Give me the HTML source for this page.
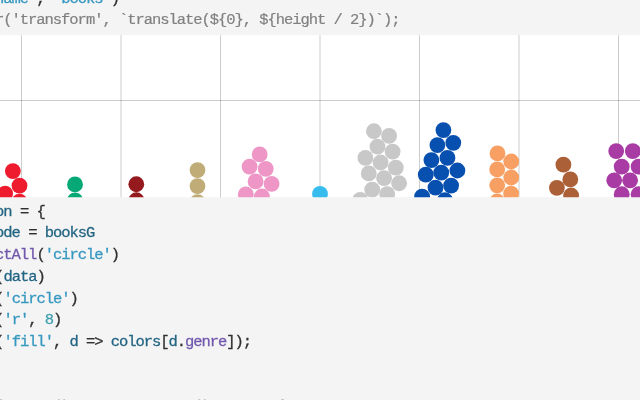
<!DOCTYPE html>
<html><head><meta charset="utf-8"><title>books</title>
<style>
html,body{margin:0;padding:0}
body{width:640px;height:400px;overflow:hidden;position:relative;background:#f4f4f4;}
.chart{position:absolute;left:0;top:0;display:block}
.ln{position:absolute;left:-4.9px;margin-top:-15px;height:22px;line-height:22px;white-space:pre;
 font-family:"Liberation Mono",monospace;font-size:15.5px;letter-spacing:-1.05px;color:#303030;
 -webkit-text-stroke:0.28px currentColor;font-kerning:none;font-variant-ligatures:none}
.dim,.dim2{color:#808080;-webkit-text-stroke:0.2px currentColor;}
.dim2{color:#555}
.v{color:#236583}
.s{color:#3798c0}
.f{color:#7158ad}
.n{color:#3f9fae}
</style></head><body>
<svg class="chart" width="640" height="400" viewBox="0 0 640 400">
<defs><clipPath id="c"><rect x="0" y="35.2" width="640" height="162.00"/></clipPath></defs>
<rect x="0" y="35.2" width="640" height="162.00" fill="#fff"/>
<g clip-path="url(#c)">
<g stroke="#000" stroke-opacity="0.2" stroke-width="1">
<line x1="21.5" y1="30" x2="21.5" y2="200"/>
<line x1="121" y1="30" x2="121" y2="200"/>
<line x1="220.5" y1="30" x2="220.5" y2="200"/>
<line x1="320" y1="30" x2="320" y2="200"/>
<line x1="419.5" y1="30" x2="419.5" y2="200"/>
<line x1="519" y1="30" x2="519" y2="200"/>
<line x1="618.5" y1="30" x2="618.5" y2="200"/>
<line x1="0" y1="100.5" x2="640" y2="100.5"/>
</g>
<g fill="#ee1a2e">
<circle cx="12.85" cy="171.1" r="7.9"/>
<circle cx="19.5" cy="185.6" r="7.9"/>
<circle cx="5.1" cy="193.6" r="7.9"/>
<circle cx="19.5" cy="201.6" r="7.9"/>
</g>
<g fill="#06a876">
<circle cx="75.0" cy="184.4" r="7.9"/>
<circle cx="75.0" cy="200.3" r="7.9"/>
</g>
<g fill="#941a1e">
<circle cx="136.3" cy="184.25" r="7.9"/>
<circle cx="136.4" cy="200.25" r="7.9"/>
</g>
<g fill="#c0ac76">
<circle cx="197.5" cy="170.1" r="7.9"/>
<circle cx="197.5" cy="186.1" r="7.9"/>
<circle cx="197.5" cy="202.1" r="7.9"/>
</g>
<g fill="#ee96c6">
<circle cx="259.7" cy="154.4" r="7.9"/>
<circle cx="249.6" cy="166.6" r="7.9"/>
<circle cx="265.75" cy="168.8" r="7.9"/>
<circle cx="255.6" cy="181.4" r="7.9"/>
<circle cx="271.6" cy="183.8" r="7.9"/>
<circle cx="245.8" cy="194.4" r="7.9"/>
<circle cx="261.9" cy="196.5" r="7.9"/>
</g>
<g fill="#37bcee">
<circle cx="320.0" cy="193.9" r="7.9"/>
</g>
<g fill="#c8c8c8">
<circle cx="373.9" cy="131.25" r="7.9"/>
<circle cx="389.1" cy="135.9" r="7.9"/>
<circle cx="377.45" cy="146.65" r="7.9"/>
<circle cx="392.6" cy="151.7" r="7.9"/>
<circle cx="365.4" cy="157.9" r="7.9"/>
<circle cx="380.6" cy="162.5" r="7.9"/>
<circle cx="395.8" cy="167.7" r="7.9"/>
<circle cx="368.75" cy="173.4" r="7.9"/>
<circle cx="384.1" cy="178.2" r="7.9"/>
<circle cx="399.1" cy="183.25" r="7.9"/>
<circle cx="372.2" cy="189.6" r="7.9"/>
<circle cx="387.2" cy="194.1" r="7.9"/>
<circle cx="360.25" cy="199.9" r="7.9"/>
</g>
<g fill="#0750b0">
<circle cx="443.4" cy="130.1" r="7.9"/>
<circle cx="437.4" cy="145.1" r="7.9"/>
<circle cx="453.3" cy="142.8" r="7.9"/>
<circle cx="431.4" cy="160.1" r="7.9"/>
<circle cx="447.45" cy="157.9" r="7.9"/>
<circle cx="425.8" cy="174.7" r="7.9"/>
<circle cx="441.25" cy="172.6" r="7.9"/>
<circle cx="457.4" cy="170.5" r="7.9"/>
<circle cx="435.5" cy="187.6" r="7.9"/>
<circle cx="451.1" cy="185.6" r="7.9"/>
<circle cx="422.1" cy="196.7" r="7.9"/>
<circle cx="445.0" cy="200.25" r="7.9"/>
</g>
<g fill="#f8a064">
<circle cx="497.5" cy="153.4" r="7.9"/>
<circle cx="511.25" cy="161.5" r="7.9"/>
<circle cx="497.2" cy="169.4" r="7.9"/>
<circle cx="511.25" cy="177.5" r="7.9"/>
<circle cx="497.2" cy="185.3" r="7.9"/>
<circle cx="511.1" cy="193.6" r="7.9"/>
<circle cx="497.2" cy="201.5" r="7.9"/>
</g>
<g fill="#ac6038">
<circle cx="563.4" cy="164.7" r="7.9"/>
<circle cx="570.3" cy="179.4" r="7.9"/>
<circle cx="556.9" cy="187.8" r="7.9"/>
<circle cx="571.1" cy="195.5" r="7.9"/>
</g>
<g fill="#a83ca4">
<circle cx="616.2" cy="151.1" r="7.9"/>
<circle cx="632.8" cy="151.1" r="7.9"/>
<circle cx="621.7" cy="166.7" r="7.9"/>
<circle cx="638.6" cy="166.7" r="7.9"/>
<circle cx="614.2" cy="180.3" r="7.9"/>
<circle cx="630.1" cy="180.3" r="7.9"/>
<circle cx="621.7" cy="194.25" r="7.9"/>
<circle cx="638.6" cy="194.25" r="7.9"/>
</g>
</g></svg>
<div class="ln hl" style="top:3.00px"><span class="s">name'</span>, <span class="s">'books'</span>)</div>
<div class="ln dim" style="top:24.00px">r('transform', `translate(${0}, ${height / 2})`);</div>
<div class="ln hl" style="top:215.70px"><span class="v">on</span> = {</div>
<div class="ln hl" style="top:237.45px"><span class="v">ode</span> = <span class="v">booksG</span></div>
<div class="ln hl" style="top:259.20px"><span class="f">ctAll</span>(<span class="s">'circle'</span>)</div>
<div class="ln hl" style="top:280.95px">(<span class="v">data</span>)</div>
<div class="ln hl" style="top:302.70px">(<span class="s">'circle'</span>)</div>
<div class="ln hl" style="top:324.45px">(<span class="s">'r'</span>, <span class="n">8</span>)</div>
<div class="ln hl" style="top:346.20px">(<span class="s">'fill'</span>, <span class="v">d</span> =&gt; <span class="v">colors</span>[<span class="v">d</span>.<span class="f">genre</span>]);</div>
<div class="ln hl" style="top:411.10px">(x, y, () =&gt; a.sum.mean.() =&gt; now {</div>
</body></html>
